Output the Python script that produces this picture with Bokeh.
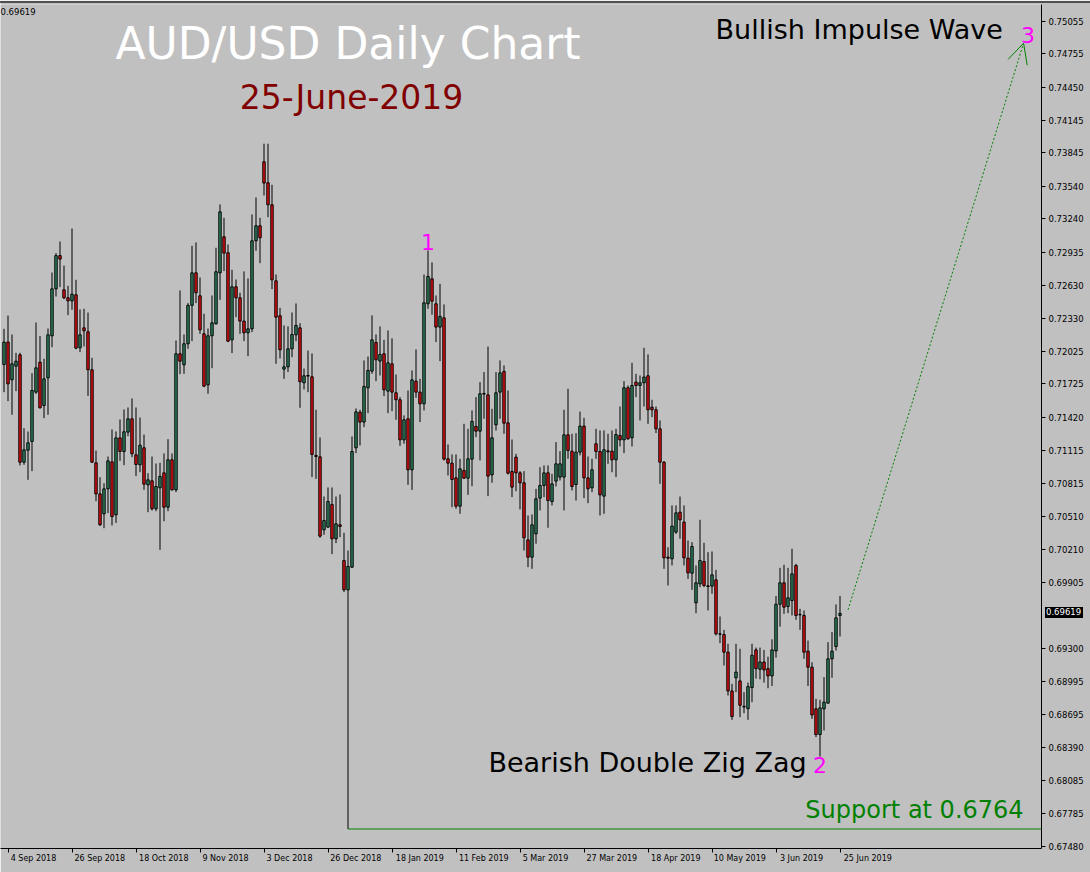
from bokeh.plotting import figure
from bokeh.models import Range1d, FixedTicker, PrintfTickFormatter, Arrow, OpenHead, ColumnDataSource
from bokeh.core.properties import value
from bokeh.embed import file_html
from bokeh.resources import INLINE

# ---------------- data (daily AUD/USD bars, 3 Sep 2018 .. 25 Jun 2019) ----------------
opens = [
0.71904,0.72109,0.71763,0.71888,0.71992,0.71007,0.71117,0.71197,0.71650,0.71925,
0.71527,0.71781,0.72167,0.72598,0.72903,0.72589,0.72516,0.72488,0.72543,0.72057,
0.72240,0.72204,0.71855,0.71001,0.70716,0.70533,0.70762,0.71010,0.70524,0.71230,
0.71105,0.71283,0.71405,0.71075,0.70983,0.71139,0.70799,0.70836,0.70579,0.70772,
0.70909,0.70594,0.71029,0.70753,0.72002,0.71901,0.72094,0.72447,0.72745,0.72534,
0.72185,0.71717,0.72167,0.72277,0.72745,0.73076,0.72929,0.72130,0.72617,0.72516,
0.72302,0.72195,0.72231,0.73039,0.73177,0.73764,0.73572,0.73370,0.72672,0.72351,
0.71861,0.71882,0.72048,0.72176,0.72240,0.71736,0.71803,0.71791,0.71069,0.71056,
0.70386,0.70411,0.70619,0.70304,0.70432,0.70105,0.69835,0.70043,0.71139,0.71466,
0.71375,0.71690,0.71843,0.72106,0.71935,0.72002,0.71659,0.71910,0.71644,0.71580,
0.71212,0.71405,0.70937,0.71751,0.71650,0.71543,0.72461,0.72690,0.72461,0.72247,
0.72332,0.71038,0.70998,0.70863,0.70603,0.70931,0.70860,0.71035,0.71335,0.71292,
0.71638,0.71625,0.70891,0.71350,0.71650,0.71840,0.71368,0.70922,0.71053,0.70909,
0.70818,0.70294,0.70135,0.70349,0.70677,0.70793,0.70909,0.70646,0.70833,0.70870,
0.70870,0.71258,0.71108,0.70802,0.71099,0.71338,0.70863,0.70772,0.71176,0.71105,
0.70695,0.71111,0.71108,0.71029,0.71252,0.71212,0.71690,0.71231,0.71742,0.71711,
0.71736,0.71800,0.71512,0.71488,0.71313,0.71007,0.70135,0.70120,0.70365,0.70548,
0.70457,0.70126,0.69988,0.69716,0.69890,0.70095,0.69872,0.69869,0.69927,0.69431,
0.69425,0.69263,0.68907,0.69028,0.68999,0.68766,0.68745,0.68938,0.69284,0.69106,
0.69173,0.69112,0.69045,0.69274,0.69703,0.69900,0.69682,0.69737,0.70059,0.69609,
0.69600,0.69272,0.69125,0.68743,0.68507,0.68743,0.68795,0.69202,0.69315,0.69600]
highs = [
0.72231,0.72353,0.72179,0.72011,0.72011,0.71319,0.71289,0.71824,0.72289,0.72164,
0.71956,0.72234,0.72748,0.72926,0.73033,0.72812,0.72626,0.73152,0.72681,0.72409,
0.72415,0.72381,0.71965,0.71114,0.70869,0.70814,0.71059,0.71307,0.71289,0.71399,
0.71491,0.71509,0.71592,0.71509,0.71417,0.71261,0.70906,0.71059,0.70995,0.71001,
0.71087,0.71218,0.71087,0.72124,0.72583,0.72179,0.72467,0.72993,0.73024,0.72703,
0.72369,0.72234,0.72537,0.72975,0.73373,0.73250,0.73005,0.72773,0.72684,0.72562,
0.72758,0.72693,0.73281,0.73437,0.73250,0.73930,0.73930,0.73553,0.72730,0.72424,
0.72262,0.72253,0.72381,0.72464,0.72283,0.71867,0.72032,0.72005,0.71488,0.71234,
0.70692,0.70775,0.70775,0.70692,0.70711,0.70359,0.70196,0.71243,0.71500,0.71488,
0.71941,0.71977,0.72354,0.72179,0.72253,0.72130,0.72216,0.72143,0.71812,0.71604,
0.71436,0.71665,0.71849,0.72042,0.71772,0.72730,0.72950,0.72840,0.72537,0.72644,
0.72455,0.71170,0.71078,0.71078,0.71038,0.71359,0.71313,0.71482,0.71604,0.71742,
0.71834,0.72069,0.71497,0.71834,0.71941,0.71895,0.71665,0.71215,0.71084,0.70925,
0.70925,0.70518,0.70527,0.70762,0.70961,0.70977,0.70977,0.70900,0.71191,0.71108,
0.71488,0.71681,0.71267,0.71273,0.71472,0.71414,0.71059,0.71038,0.71313,0.71298,
0.71298,0.71267,0.71298,0.71313,0.71518,0.71751,0.71711,0.71919,0.71818,0.71803,
0.72057,0.71996,0.71580,0.71518,0.71390,0.71017,0.70227,0.70610,0.70610,0.70692,
0.70610,0.70288,0.70273,0.70059,0.70478,0.70267,0.70181,0.70187,0.70019,0.69591,
0.69468,0.69340,0.68972,0.69340,0.69294,0.68896,0.68984,0.69340,0.69305,0.69305,
0.69284,0.69222,0.69381,0.69779,0.70037,0.70065,0.70037,0.70212,0.70074,0.69661,
0.69646,0.69370,0.69171,0.68835,0.68826,0.69034,0.69355,0.69447,0.69701,0.69780]
lows = [
0.71650,0.71567,0.71442,0.71659,0.70977,0.70983,0.70845,0.70925,0.71634,0.71500,
0.71411,0.71442,0.72063,0.72528,0.72614,0.72503,0.72357,0.72406,0.72044,0.72017,
0.72069,0.71616,0.71000,0.70649,0.70423,0.70401,0.70539,0.70426,0.70450,0.71019,
0.70980,0.71246,0.71053,0.70879,0.70915,0.70753,0.70548,0.70563,0.70557,0.70202,
0.70465,0.70557,0.70747,0.70732,0.71815,0.71818,0.72048,0.72118,0.72467,0.72185,
0.71696,0.71635,0.71870,0.72270,0.72497,0.72761,0.72109,0.72008,0.72338,0.72185,
0.72118,0.71980,0.72201,0.72947,0.72834,0.73455,0.73256,0.72595,0.71910,0.71959,
0.71772,0.71834,0.71971,0.72118,0.71506,0.71674,0.71650,0.70870,0.70854,0.70313,
0.70340,0.70405,0.70163,0.70264,0.70319,0.69814,0.67640,0.70037,0.71090,0.71160,
0.71329,0.71457,0.71818,0.71751,0.71803,0.71613,0.71457,0.71475,0.71396,0.71157,
0.71176,0.70799,0.70753,0.71598,0.71375,0.71482,0.72415,0.72360,0.72109,0.71934,
0.71023,0.70885,0.70594,0.70579,0.70533,0.70854,0.70707,0.70787,0.71237,0.71023,
0.71405,0.70695,0.70818,0.71298,0.71405,0.71267,0.70894,0.70686,0.70741,0.70573,
0.70196,0.70043,0.70028,0.70258,0.70564,0.70686,0.70405,0.70610,0.70784,0.70839,
0.70564,0.71038,0.70747,0.70655,0.71069,0.70677,0.70631,0.70732,0.71038,0.70518,
0.70533,0.70992,0.70915,0.70870,0.71151,0.71090,0.71212,0.71151,0.71604,0.71390,
0.71518,0.71359,0.71420,0.71274,0.70808,0.70028,0.69875,0.70059,0.70349,0.70304,
0.70059,0.69936,0.69835,0.69621,0.69860,0.69860,0.69646,0.69799,0.69416,0.69346,
0.69141,0.68865,0.68642,0.68896,0.68666,0.68703,0.68642,0.68804,0.69020,0.69014,
0.68984,0.68932,0.68953,0.69213,0.69498,0.69615,0.69621,0.69600,0.69560,0.69468,
0.69202,0.68953,0.68651,0.68483,0.68305,0.68544,0.68795,0.69028,0.69278,0.69407]
closes = [
0.72109,0.71726,0.71910,0.71934,0.71007,0.71120,0.71185,0.71665,0.71873,0.71506,
0.71772,0.72176,0.72598,0.72903,0.72871,0.72516,0.72488,0.72549,0.72054,0.72176,
0.72213,0.71855,0.71007,0.70716,0.70432,0.70762,0.71019,0.70508,0.71230,0.71105,
0.71286,0.71405,0.71084,0.70986,0.71163,0.70805,0.70845,0.70579,0.70784,0.70876,
0.70594,0.71029,0.70753,0.72002,0.71934,0.72094,0.72447,0.72745,0.72562,0.72222,
0.71705,0.72167,0.72286,0.72755,0.73305,0.72926,0.72118,0.72617,0.72516,0.72302,
0.72195,0.72231,0.73039,0.73177,0.73067,0.73569,0.73370,0.72681,0.72338,0.72039,
0.71882,0.72048,0.72179,0.72262,0.71745,0.71800,0.71797,0.71078,0.71059,0.70328,
0.70472,0.70646,0.70304,0.70441,0.70417,0.69835,0.70050,0.71105,0.71469,0.71375,
0.71702,0.71849,0.72130,0.71947,0.71996,0.71671,0.71919,0.71650,0.71580,0.71212,
0.71396,0.70937,0.71763,0.71650,0.71543,0.72470,0.72712,0.72485,0.72247,0.72345,
0.71035,0.70998,0.70848,0.70603,0.70946,0.70860,0.71038,0.71381,0.71292,0.71635,
0.71632,0.70879,0.71231,0.71644,0.71827,0.71365,0.70906,0.70778,0.70909,0.70818,
0.70313,0.70135,0.70432,0.70671,0.70793,0.70909,0.70655,0.70808,0.70992,0.70992,
0.71258,0.71114,0.70784,0.71099,0.71338,0.70863,0.70763,0.70937,0.71105,0.70707,
0.71121,0.71102,0.71029,0.71261,0.71212,0.71690,0.71222,0.71711,0.71711,0.71736,
0.71788,0.71488,0.71488,0.71313,0.71007,0.70129,0.70126,0.70420,0.70542,0.70478,
0.70129,0.69991,0.70233,0.69900,0.70105,0.69875,0.69866,0.69973,0.69431,0.69428,
0.69263,0.68907,0.68672,0.69080,0.68776,0.68760,0.68947,0.69235,0.69112,0.69173,
0.69100,0.69045,0.69284,0.69703,0.69900,0.69676,0.69762,0.69982,0.69600,0.69606,
0.69263,0.69125,0.68687,0.68507,0.68752,0.68804,0.69202,0.69272,0.69578,0.69619]

tick_bars = [1, 17, 33, 49, 65, 81, 97, 113, 129, 145, 161, 177, 193, 209]
tick_labels = ["4 Sep 2018", "26 Sep 2018", "18 Oct 2018", "9 Nov 2018", "3 Dec 2018",
               "26 Dec 2018", "18 Jan 2019", "11 Feb 2019", "5 Mar 2019", "27 Mar 2019",
               "18 Apr 2019", "10 May 2019", "3 Jun 2019", "25 Jun 2019"]
price_ticks = [0.75055, 0.74755, 0.74450, 0.74145, 0.73845, 0.73540, 0.73240, 0.72935,
               0.72630, 0.72330, 0.72025, 0.71725, 0.71420, 0.71115, 0.70815, 0.70510,
               0.70210, 0.69905, 0.69300, 0.68995, 0.68695, 0.68390, 0.68085, 0.67785, 0.67480]
last_price = 0.69619
support_price = 0.6764
support_bar = 86
wave_labels = ["1", "2", "3"]
wave_bars = [106, 204, 256]
wave_prices = [0.72950, 0.68305, 0.74853]
proj_start = (211, 0.69652)
proj_end = (254.9, 0.74853)

# ---------------- styling ----------------
BG = "#C0C0C0"
BULL = "#2F8A62"
BEAR = "#F01010"
GREEN = "#008000"
MAGENTA = "#FF00FF"
FONT = "DejaVu Sans"
W, H = 1090, 872
BORDER_TOP, BORDER_RIGHT, BORDER_BOTTOM = 4, 49, 24
X0, X1 = -0.875, 259.375
Y0, Y1 = 0.67461, 0.75208

n = len(opens)
idx = list(range(n))
src = ColumnDataSource(dict(
    x=idx, o=opens, h=highs, l=lows, c=closes,
    top=[max(a, b) for a, b in zip(opens, closes)],
    bot=[min(a, b) for a, b in zip(opens, closes)],
    col=[BULL if c >= o else BEAR for o, c in zip(opens, closes)],
))

p = figure(width=W, height=H, output_backend="svg", toolbar_location=None,
           x_range=Range1d(X0, X1), y_range=Range1d(Y0, Y1),
           y_axis_location="right", background_fill_color=BG, border_fill_color=BG,
           min_border=0, min_border_left=0, min_border_top=BORDER_TOP,
           min_border_right=BORDER_RIGHT, min_border_bottom=BORDER_BOTTOM)
p.outline_line_color = None
p.grid.visible = False

# right price axis
p.yaxis.ticker = FixedTicker(ticks=price_ticks)
p.yaxis.formatter = PrintfTickFormatter(format="%.5f")
p.yaxis.major_label_text_font_size = "8.5px"
p.yaxis.major_label_standoff = 3
p.yaxis.minor_tick_line_color = None
p.yaxis.major_tick_line_color = "black"

# date axis: tick marks at the dates (minor ticks), labels start just right of each mark
px_per_bar = 4.0
label_centres = [round(b + (2.5 + len(t) * 4.6 / 2) / px_per_bar, 3) for b, t in zip(tick_bars, tick_labels)]
p.xaxis.ticker = FixedTicker(ticks=label_centres, minor_ticks=tick_bars)
p.xaxis.major_label_overrides = {c: t for c, t in zip(label_centres, tick_labels)}
p.xaxis.major_tick_line_color = None
p.xaxis.minor_tick_line_color = "black"
p.xaxis.minor_tick_in = 0
p.xaxis.minor_tick_out = 4
p.xaxis.major_label_text_font_size = "8px"
p.xaxis.major_label_standoff = 1
for ax in (p.xaxis, p.yaxis):
    ax.axis_line_color = "black"
    ax.major_tick_in = 0
    ax.major_tick_out = 4
    ax.major_label_text_font = FONT
    ax.major_label_text_color = "black"

# candles
p.segment(x0="x", y0="l", x1="x", y1="h", source=src, line_color="black", line_width=1)
p.vbar(x="x", top="top", bottom="bot", width=0.6, source=src,
       fill_color="col", line_color="black", line_width=1)

# support line from the flash-crash low
p.ray(x=[support_bar], y=[support_price], length=0, angle=0, line_color=GREEN, line_width=1)

# projection arrow
p.add_layout(Arrow(x_start=proj_start[0], y_start=proj_start[1], x_end=proj_end[0], y_end=proj_end[1],
                   line_color=GREEN, line_width=1, line_dash="2 2",
                   end=OpenHead(size=20, line_color=GREEN, line_width=1)))

# wave labels
p.text(x=[wave_bars[0]], y=[wave_prices[0]], text=[wave_labels[0]], text_color=MAGENTA,
       text_font=value(FONT), text_font_size="22px", text_align="center", text_baseline="bottom")
p.text(x=[wave_bars[1]], y=[wave_prices[1]], text=[wave_labels[1]], text_color=MAGENTA,
       text_font=value(FONT), text_font_size="22px", text_align="center", text_baseline="top")
p.text(x=[wave_bars[2]], y=[wave_prices[2]], text=[wave_labels[2]], text_color=MAGENTA,
       text_font=value(FONT), text_font_size="22px", text_align="center", text_baseline="bottom")

# annotations
def txt(x, y, s, size, color, align="left"):
    p.text(x=[x], y=[y], text=[s], text_color=color, text_font=value(FONT),
           text_font_size=size, text_align=align, text_baseline="middle")

txt(86.0, 0.74850, "AUD/USD Daily Chart", "44px", "white", "center")
txt(86.9, 0.74355, "25-June-2019", "33px", "#800000", "center")
txt(177.9, 0.74981, "Bullish Impulse Wave", "27px", "black")
txt(121.1, 0.68251, "Bearish Double Zig Zag", "27px", "black")
txt(254.9, 0.67810, "Support at 0.6764", "24px", GREEN, "right")
txt(X0, 0.75144, "0.69619", "8.5px", "black")

# current-price marker on the price scale + window top rule (DOM elements, not clipped to the frame)
try:
    from bokeh.models.dom import Div as DomDiv
    frame_h = H - BORDER_TOP - BORDER_BOTTOM
    frame_right = W - BORDER_RIGHT
    sy = BORDER_TOP + (Y1 - last_price) / (Y1 - Y0) * frame_h
    price_box = DomDiv(style={
        "position": "absolute", "left": "%dpx" % (frame_right + 4), "top": "%.1fpx" % (sy - 5.5),
        "height": "11px", "line-height": "11px", "padding": "0px 2px 0px 1px",
        "background-color": "black", "color": "white", "font-family": FONT,
        "font-size": "8.5px", "white-space": "nowrap", "z-index": "10"},
        children=["%.5f" % last_price])
    top_rule = DomDiv(style={
        "position": "absolute", "left": "0px", "top": "1px", "width": "%dpx" % W, "height": "2px",
        "background-color": "#505050", "z-index": "10"})
    p.elements = [price_box, top_rule]
except Exception:
    pass

open("out.html", "w").write(file_html(p, INLINE))
